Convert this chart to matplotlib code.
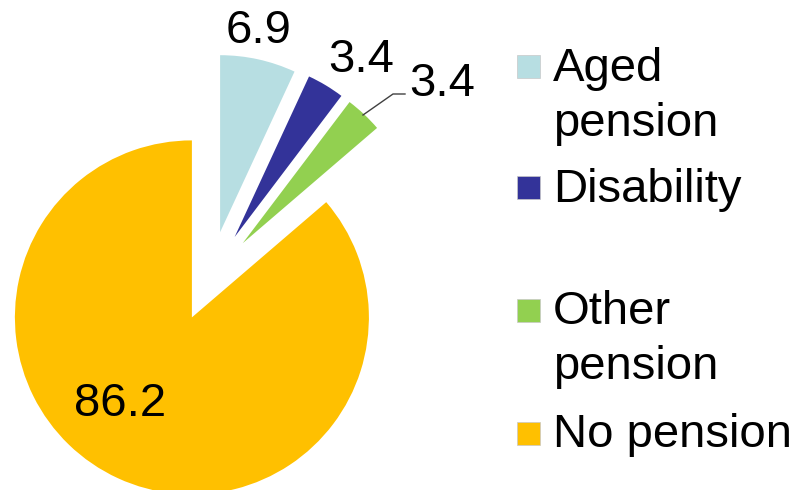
import matplotlib
matplotlib.use("Agg")
import matplotlib.pyplot as plt
from matplotlib.patches import Rectangle

plt.rcParams['font.family'] = ['Liberation Sans', 'DejaVu Sans']

# данные
categories = ['Aged\npension', 'Disability', 'Other\npension', 'No pension']
values = [6.9, 3.4, 3.4, 86.2]
colors = ['#B7DEE2', '#333399', '#92D050', '#FFC000']
explode = [0.265, 0.27, 0.27, 0.245]

W, H = 798, 490
CX, CY, R = 210, 278, 177  # центр и радиус круга в пикселях


def px(x, y):
    # пиксели картинки -> координаты осей (радиус = 1)
    return (x - CX) / R, (CY - y) / R


fig = plt.figure(figsize=(W / 100, H / 100), dpi=100)
ax = fig.add_axes([0, 0, 1, 1])

ax.pie(values, colors=colors, explode=explode, startangle=90,
       counterclock=False, radius=1, center=(0, 0),
       wedgeprops=dict(linewidth=0))

# pie сам выставляет пределы, поэтому задаём их после
ax.set_xlim(px(0, 0)[0], px(W, 0)[0])
ax.set_ylim(px(0, H)[1], px(0, 0)[1])
ax.set_aspect('auto')
ax.axis('off')

# подписи значений
label_pos = [(259, 43), (361, 72), (442, 96), (120, 416)]
for v, (x, y) in zip(values, label_pos):
    ax.text(*px(x, y), f"{v:.1f}", fontsize=34, ha='center', va='baseline')

# выноска для "Other pension"
lx, ly = zip(px(363, 115), px(393, 94), px(405, 94))
ax.plot(lx, ly, color='#404040', lw=1)

# легенда
box_y = [67, 188, 310, 433]
box = 23
for lab, c, yc in zip(categories, colors, box_y):
    x0, y0 = px(517, yc + box / 2)
    ax.add_patch(Rectangle((x0, y0), box / R, box / R, facecolor=c,
                           edgecolor='#c8c8c8', lw=0.5))
    for i, line in enumerate(lab.split('\n')):
        ax.text(*px(553, yc + 14 + i * 55), line, fontsize=34,
                ha='left', va='baseline')

fig.savefig('out.png', dpi=100)
